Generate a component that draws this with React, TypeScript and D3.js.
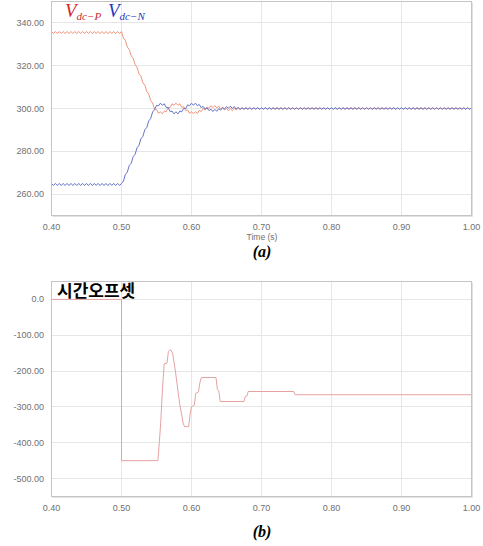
import React from "react";
import * as d3 from "d3";

// sampled waveform: first sample at T0, one sample every DT seconds
const T0 = 0.4;
const DT = 1 / 360;

// V_dc-P (red)
const vdcP = [
  336, 335, 336, 335, 336, 335, 336, 335, 336, 335, 336, 335, 336, 335, 336, 335, 336, 335,
  336, 335, 336, 335, 336, 335, 336, 335, 336, 335, 336, 335, 336, 335, 336, 335, 336, 335, 336,
  // ramp down
  332.9, 331.8, 328.7, 327.6, 324.6, 323.5, 320.4, 319.3, 316.2, 315.1, 312.0, 310.9, 307.9, 306.8,
  303.7, 302.6, 299.5,
  // settling
  299.5, 297.8, 298.5, 297.5, 298.8, 298.5, 300.5, 300.5, 302.2, 301.5, 302.5, 301.5, 302.2, 300.5,
  300.9, 299.1, 299.3, 297.7, 298.5, 297.5, 298.5, 297.7, 299.1, 298.6, 300.0, 299.3, 300.7, 300.0,
  301.3, 300.4, 301.4, 300.3, 301.1, 299.8, 300.6, 299.3, 300.1, 298.9, 299.9, 299.0, 300.1, 299.3,
  300.4, 299.5,
  // steady
  300.4, 299.6, 300.4, 299.6, 300.4, 299.6, 300.4, 299.6, 300.4, 299.6, 300.4, 299.6, 300.4, 299.6, 300.4, 299.6, 300.4, 299.6, 300.4, 299.6,
  300.4, 299.6, 300.4, 299.6, 300.4, 299.6, 300.4, 299.6, 300.4, 299.6, 300.4, 299.6, 300.4, 299.6, 300.4, 299.6, 300.4, 299.6, 300.4, 299.6,
  300.4, 299.6, 300.4, 299.6, 300.4, 299.6, 300.4, 299.6, 300.4, 299.6, 300.4, 299.6, 300.4, 299.6, 300.4, 299.6, 300.4, 299.6, 300.4, 299.6,
  300.4, 299.6, 300.4, 299.6, 300.4, 299.6, 300.4, 299.6, 300.4, 299.6, 300.4, 299.6, 300.4, 299.6, 300.4, 299.6, 300.4, 299.6, 300.4, 299.6,
  300.4, 299.6, 300.4, 299.6, 300.4, 299.6, 300.4, 299.6, 300.4, 299.6, 300.4, 299.6, 300.4, 299.6, 300.4, 299.6, 300.4, 299.6, 300.4, 299.6,
  300.4, 299.6, 300.4, 299.6, 300.4, 299.6, 300.4, 299.6, 300.4, 299.6, 300.4, 299.6, 300.4, 299.6, 300.4, 299.6, 300.4, 299.6, 300.4,
];

// V_dc-N (blue)
const vdcN = [
  265, 264, 265, 264, 265, 264, 265, 264, 265, 264, 265, 264, 265, 264, 265, 264, 265, 264,
  265, 264, 265, 264, 265, 264, 265, 264, 265, 264, 265, 264, 265, 264, 265, 264, 265, 264, 265,
  // ramp up
  266.1, 269.2, 270.3, 273.4, 274.4, 277.5, 278.6, 281.7, 282.8, 285.9, 287.0, 290.1, 291.1, 294.2,
  295.3, 298.4, 299.5,
  // settling
  301.5, 301.2, 302.5, 301.5, 302.2, 300.5, 300.5, 298.5, 298.8, 297.5, 298.5, 297.5, 298.8, 298.5,
  300.1, 299.9, 301.7, 301.3, 302.5, 301.5, 302.5, 301.3, 301.9, 300.4, 301.0, 299.7, 300.3, 299.0,
  299.7, 298.6, 299.6, 298.7, 299.9, 299.2, 300.4, 299.7, 300.9, 300.1, 301.1, 300.0, 300.9, 299.7,
  300.6, 299.5,
  // steady
  300.3, 299.7, 300.3, 299.7, 300.3, 299.7, 300.3, 299.7, 300.3, 299.7, 300.3, 299.7, 300.3, 299.7, 300.3, 299.7, 300.3, 299.7, 300.3, 299.7,
  300.3, 299.7, 300.3, 299.7, 300.3, 299.7, 300.3, 299.7, 300.3, 299.7, 300.3, 299.7, 300.3, 299.7, 300.3, 299.7, 300.3, 299.7, 300.3, 299.7,
  300.3, 299.7, 300.3, 299.7, 300.3, 299.7, 300.3, 299.7, 300.3, 299.7, 300.3, 299.7, 300.3, 299.7, 300.3, 299.7, 300.3, 299.7, 300.3, 299.7,
  300.3, 299.7, 300.3, 299.7, 300.3, 299.7, 300.3, 299.7, 300.3, 299.7, 300.3, 299.7, 300.3, 299.7, 300.3, 299.7, 300.3, 299.7, 300.3, 299.7,
  300.3, 299.7, 300.3, 299.7, 300.3, 299.7, 300.3, 299.7, 300.3, 299.7, 300.3, 299.7, 300.3, 299.7, 300.3, 299.7, 300.3, 299.7, 300.3, 299.7,
  300.3, 299.7, 300.3, 299.7, 300.3, 299.7, 300.3, 299.7, 300.3, 299.7, 300.3, 299.7, 300.3, 299.7, 300.3, 299.7, 300.3, 299.7, 300.3,
];

// time offset (panel b)
const offsetT = [
  0.4, 0.5, 0.5, 0.552, 0.554, 0.556, 0.5585, 0.561, 0.565, 0.567,
  0.57, 0.573, 0.577, 0.583, 0.588, 0.59, 0.596, 0.598, 0.6, 0.604,
  0.606, 0.61, 0.612, 0.614, 0.635, 0.637, 0.639, 0.641, 0.675, 0.677,
  0.679, 0.681, 0.746, 0.748, 1.0,
];
const offsetV = [
  0, 0, -450, -450, -400, -345, -250, -180, -178, -145,
  -140, -150, -200, -290, -345, -355, -355, -320, -300, -295,
  -262, -258, -232, -218, -218, -252, -255, -285, -285, -270,
  -270, -257, -257, -266, -266,
];

const xTicks = [0.4, 0.5, 0.6, 0.7, 0.8, 0.9, 1.0];
const yTicksA = [260, 280, 300, 320, 340];
const yTicksB = [0, -100, -200, -300, -400, -500];

const W = 483;
const H = 546;
const left = 51.5;
const right = 471.5;
const tickFont = "'Liberation Sans', Arial, sans-serif";

function Frame({ top, bottom, y, yTicks, fmt, id, children }) {
  const x = d3.scaleLinear().domain([0.4, 1.0]).range([left, right]);
  return (
    <g>
      <defs>
        <clipPath id={id}>
          <rect x={left} y={top} width={right - left} height={bottom - top} />
        </clipPath>
      </defs>
      {/* grid */}
      {xTicks.slice(1, -1).map((t) => (
        <line key={"gx" + t} x1={Math.floor(x(t)) + 0.5} x2={Math.floor(x(t)) + 0.5} y1={top} y2={bottom} stroke="#e6e6e6" />
      ))}
      {yTicks.map((t) => (
        <line key={"gy" + t} x1={left} x2={right} y1={Math.floor(y(t)) + 0.5} y2={Math.floor(y(t)) + 0.5} stroke="#e6e6e6" />
      ))}
      <g clipPath={`url(#${id})`}>{children}</g>
      {/* frame with a small shadow right/bottom */}
      <line x1={right + 1} x2={right + 1} y1={top + 1} y2={bottom + 1} stroke="#e2e2e2" />
      <line x1={left + 1} x2={right + 1} y1={bottom + 1} y2={bottom + 1} stroke="#e2e2e2" />
      <rect x={left} y={top} width={right - left} height={bottom - top} fill="none" stroke="#c4c4c4" />
      {yTicks.map((t) => (
        <text key={"ly" + t} x={44} y={y(t) + 3} textAnchor="end" fontSize={9} fontFamily={tickFont} fill="#707070">
          {fmt(t)}
        </text>
      ))}
      {xTicks.map((t) => (
        <text key={"lx" + t} x={x(t)} y={bottom + 14} textAnchor="middle" fontSize={9} fontFamily={tickFont} fill="#707070">
          {t.toFixed(2)}
        </text>
      ))}
    </g>
  );
}

export default function App() {
  const x = d3.scaleLinear().domain([0.4, 1.0]).range([left, right]);

  const topA = 1.5;
  const botA = 215.5;
  const yA = d3.scaleLinear().domain([250, 350]).range([botA, topA]);

  const topB = 281.5;
  const botB = 496.5;
  const yB = d3.scaleLinear().domain([-550, 50]).range([botB, topB]);

  const wave = d3
    .line<number>()
    .x((_, i) => x(T0 + i * DT))
    .y((d) => yA(d));

  const offsetLine = d3
    .line<number>()
    .x((_, i) => x(offsetT[i]))
    .y((d) => yB(d));

  return (
    <svg width={W} height={H} style={{ position: "absolute", left: 0, top: 0, background: "#fff" }}>
      <rect width={W} height={H} fill="#fff" />

      {/* (a) */}
      <Frame top={topA} bottom={botA} y={yA} yTicks={yTicksA} fmt={(d) => d.toFixed(2)} id="clipA">
        <path d={wave(vdcP)} fill="none" stroke="#ee957d" strokeWidth={1} />
        <path d={wave(vdcN)} fill="none" stroke="#6674c6" strokeWidth={1} />
      </Frame>
      <g fontFamily="'Liberation Serif', 'Times New Roman', serif" fontStyle="italic">
        <text x={65} y={17} fill="#d02828" fontSize={19}>
          V<tspan fontSize={11} dy={3}>dc−P</tspan>
        </text>
        <text x={108} y={17} fill="#2838bc" fontSize={19}>
          V<tspan fontSize={11} dy={3}>dc−N</tspan>
        </text>
      </g>
      <text x={262} y={240} textAnchor="middle" fontSize={8.5} fontFamily={tickFont} fill="#707070">
        Time (s)
      </text>
      <text x={262} y={257} textAnchor="middle" fontSize={16} fontWeight="bold" fontStyle="italic" fontFamily="'Liberation Serif', serif">
        (a)
      </text>

      {/* (b) */}
      <Frame top={topB} bottom={botB} y={yB} yTicks={yTicksB} fmt={(d) => (d === 0 ? "0.0" : d.toFixed(2))} id="clipB">
        <path d={offsetLine(offsetV)} fill="none" stroke="#e4a2a2" strokeWidth={1} />
      </Frame>
      <text x={57} y={297} fontSize={17} fontWeight={600} fontFamily="'Noto Sans CJK KR', sans-serif" fill="#000">
        시간오프셋
      </text>
      <text x={262} y={537} textAnchor="middle" fontSize={16} fontWeight="bold" fontStyle="italic" fontFamily="'Liberation Serif', serif">
        (b)
      </text>
    </svg>
  );
}
